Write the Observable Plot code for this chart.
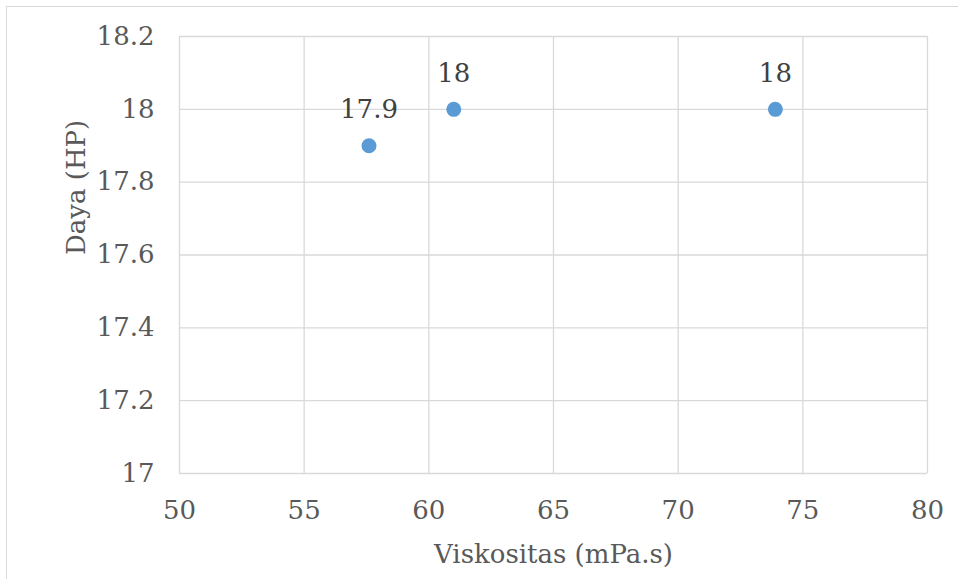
<!DOCTYPE html>
<html>
<head>
<meta charset="utf-8">
<script src="https://cdn.jsdelivr.net/npm/d3@7"></script>
<script src="https://cdn.jsdelivr.net/npm/@observablehq/plot@0.6"></script>
<style>
  html, body { margin: 0; padding: 0; background: #fff; }
  #wrap { position: relative; width: 958px; height: 579px; overflow: hidden; }
  #border { position: absolute; left: 6px; top: 6px; width: 1000px; height: 1000px;
            border-top: 1.5px solid #d9d9d9; border-left: 1.5px solid #d9d9d9; box-sizing: border-box; }
  #chart { position: absolute; left: 0; top: 0; }
  #chart svg, #chart svg text { font-family: "DejaVu Serif", serif; }
</style>
</head>
<body>
<div id="wrap"><div id="border"></div><div id="chart"></div></div>
<script>
const viscosity = [57.6, 61.0, 73.9];
const power = [17.9, 18.0, 18.0];
const pointLabels = ["17.9", "18", "18"];
const xTicks = [50, 55, 60, 65, 70, 75, 80];
const yTicks = [17, 17.2, 17.4, 17.6, 17.8, 18, 18.2];
const xTitle = "Viskositas (mPa.s)";
const yTitle = "Daya (HP)";

const data = viscosity.map((v, i) => ({x: v, y: power[i], label: pointLabels[i]}));
const serif = "DejaVu Serif";
const fs = 26;

const chart = Plot.plot({
  width: 958,
  height: 579,
  marginLeft: 179,
  marginRight: 31,
  marginTop: 36,
  marginBottom: 106,
  style: {fontFamily: serif, fontSize: fs + "px", color: "#595959", background: "transparent"},
  x: {domain: [50, 80]},
  y: {domain: [17, 18.2]},
  marks: [
    Plot.gridX(xTicks, {stroke: "#d9d9d9", strokeOpacity: 1, strokeWidth: 1.3}),
    Plot.gridY(yTicks, {stroke: "#d9d9d9", strokeOpacity: 1, strokeWidth: 1.3}),
    Plot.axisX({ticks: xTicks, tickSize: 0, tickPadding: 27, label: null, fontSize: fs, fontFamily: serif, tickFormat: d => String(d)}),
    Plot.axisY({ticks: yTicks, tickSize: 0, tickPadding: 25, label: null, fontSize: fs, fontFamily: serif, tickFormat: d => String(d)}),
    Plot.dot(data, {x: "x", y: "y", r: 7.5, fill: "#5b9bd5", stroke: "none"}),
    Plot.text(data, {x: "x", y: "y", text: "label", dy: -36, lineAnchor: "middle", fill: "#404040", fontSize: fs, fontFamily: serif}),
    Plot.text([xTitle], {frameAnchor: "bottom", dy: 81, lineAnchor: "middle", fill: "#595959", fontSize: fs, fontFamily: serif}),
    Plot.text([yTitle], {frameAnchor: "left", dx: -103, rotate: -90, lineAnchor: "middle", fill: "#595959", fontSize: fs, fontFamily: serif})
  ]
});
document.getElementById("chart").appendChild(chart);
</script>
</body>
</html>
